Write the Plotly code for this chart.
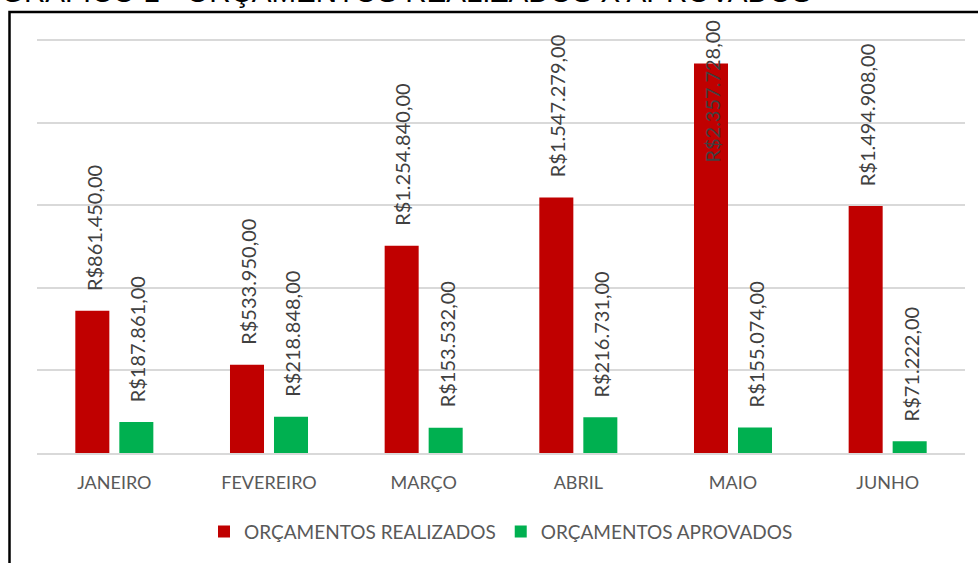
import plotly.graph_objects as go

months = ["JANEIRO", "FEVEREIRO", "MARÇO", "ABRIL", "MAIO", "JUNHO"]
realizados = [861450, 533950, 1254840, 1547279, 2357728, 1494908]
aprovados = [187861, 218848, 153532, 216731, 155074, 71222]
series_names = ["ORÇAMENTOS REALIZADOS", "ORÇAMENTOS APROVADOS"]
colors = ["#C00000", "#00B050"]
title_text = "GRÁFICO 1 - ORÇAMENTOS REALIZADOS X APROVADOS"
y_max = 2500000


def brl(v):
    s = f"{v:,.2f}"
    s = s.replace(",", "_").replace(".", ",").replace("_", ".")
    return "R$" + s


W, H = 978, 563
ML, MR, MT, MB = 37, 13, 36, 108
PW = W - ML - MR
PH = H - MT - MB
y_top = y_max * PH / 415.0


def py(p):
    return 1 + (MT - p) / PH


def px(p):
    return (p - ML) / PW


fig = go.Figure()
for name, vals, col in zip(series_names, [realizados, aprovados], colors):
    fig.add_trace(go.Bar(x=months, y=vals, name=name, marker=dict(color=col, line=dict(width=0))))

annotations = []
label_font = dict(family="Lato, 'Open Sans', sans-serif", size=20, color="#404040")
for shift, vals in zip([-22, 22], [realizados, aprovados]):
    for m, v in zip(months, vals):
        if v > 0.8 * y_max:
            annotations.append(dict(x=m, y=py(18), xref="x", yref="paper", text=brl(v), textangle=-90,
                                    showarrow=False, xanchor="center", yanchor="top",
                                    xshift=shift + 1, font=label_font))
        else:
            annotations.append(dict(x=m, y=v, xref="x", yref="y", text=brl(v), textangle=-90,
                                    showarrow=False, xanchor="center", yanchor="bottom",
                                    xshift=shift + 1, yshift=18, font=label_font))

annotations.append(dict(x=px(-1), y=py(10), xref="paper", yref="paper", text=title_text,
                        showarrow=False, xanchor="left", yanchor="bottom",
                        font=dict(family="Liberation Sans, Arial, sans-serif", size=29.5, color="#000000")))

fig.update_layout(
    width=W, height=H, autosize=False,
    margin=dict(l=ML, r=MR, t=MT, b=MB),
    paper_bgcolor="white", plot_bgcolor="white",
    barmode="group", bargap=0.431, bargroupgap=0.227,
    showlegend=True,
    legend=dict(orientation="h", x=0.5, xanchor="center", y=py(534), yanchor="middle",
                font=dict(family="Lato, 'Open Sans', sans-serif", size=19, color="#595959"),
                itemwidth=30, traceorder="normal"),
    xaxis=dict(showgrid=False, showline=True, linecolor="#D9D9D9", linewidth=2, ticks="",
               tickfont=dict(family="Lato, 'Open Sans', sans-serif", size=18, color="#595959"),
               ticklabelstandoff=12),
    yaxis=dict(range=[0, y_top], tick0=0, dtick=500000, showgrid=True, gridcolor="#D9D9D9", gridwidth=2,
               showticklabels=False, zeroline=False, ticks=""),
    annotations=annotations,
    shapes=[dict(type="rect", xref="paper", yref="paper", x0=px(9.5), x1=px(1000), y0=py(600), y1=py(12),
                 line=dict(color="black", width=2.5), fillcolor="rgba(0,0,0,0)", layer="above")],
)

fig.write_html("out.html", config={"displayModeBar": False},
               post_script="document.body.style.margin='0';")
